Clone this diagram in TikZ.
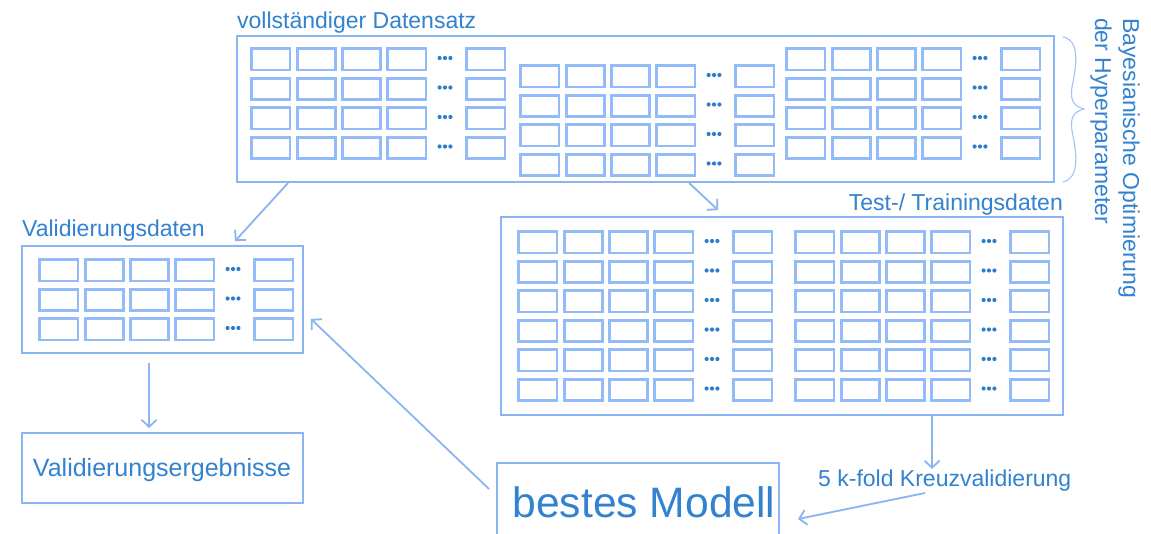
\documentclass[tikz,border=0pt]{standalone}
\usepackage{fontspec}
\setmainfont{Liberation Sans}
\usetikzlibrary{arrows.meta,calc}

\definecolor{lineblue}{RGB}{138,180,244}
\definecolor{cellblue}{RGB}{146,187,248}
\definecolor{txtblue}{RGB}{50,130,208}
\definecolor{dotblue}{RGB}{45,125,205}
\definecolor{braceblue}{RGB}{160,196,246}

\tikzset{
  frame/.style={draw=lineblue, line width=1.9pt, inner sep=0pt, rectangle},
  cell/.style={draw=cellblue, line width=2.8pt, inner sep=0pt, rectangle,
               minimum width=38.2pt, minimum height=21.2pt},
  lbl/.style={text=txtblue, inner sep=0pt, font=\fontsize{23}{28}\selectfont},
  conn/.style={draw=lineblue, line width=1.8pt,
               -{Straight Barb[length=7pt,width=15pt,line width=1.8pt]}},
}

% a block of data cells: name, left x, top y, number of rows
\newcommand\cellgrid[4]{%
  \foreach \r in {1,...,#4}{%
    \foreach \c/\dx in {1/0,2/45.3,3/90.6,4/136,5/215}{%
      \node[cell, anchor=north west] (#1-\r-\c) at (#2+\dx+1.4, #3+29.5*\r-29.5+1.4) {};
    }%
    \foreach \k in {-5.4,0,5.4}{%
      \fill[dotblue] (#2+196+\k, #3+29.5*\r-29.5+12) circle (2.1);
    }%
  }%
}

\begin{document}
\begin{tikzpicture}[x=1pt,y=-1pt]
\useasboundingbox (0,0) rectangle (1151,534);
\clip (0,0) rectangle (1151,534);
\fill[white] (0,0) rectangle (1151,534);

% complete data set
\node[frame, minimum width=817pt, minimum height=146pt] (data) at (645.5,109) {};
\node[lbl, anchor=base west] (tDS) at (237,29) {vollständiger Datensatz};
\cellgrid{ga}{249}{46}{4}
\cellgrid{gb}{518}{63}{4}
\cellgrid{gc}{784}{46}{4}

% brace and hyperparameter optimisation label
\draw[braceblue, line width=1.1pt] (1063,37) .. controls (1079,40) and (1077,62) .. (1073,82)
  .. controls (1069,100) and (1073,106) .. (1084,109)
  .. controls (1073,112) and (1069,118) .. (1073,136)
  .. controls (1077,156) and (1079,178) .. (1063,182);
\node[lbl, rotate=-90, anchor=base west] (bo) at (1123,18) {Bayesianische Optimierung};
\node[lbl, rotate=-90, anchor=base west] (hp) at (1095,18) {der Hyperparameter};

% validation data
\node[frame, minimum width=281pt, minimum height=107pt] (val) at (162.5,299.5) {};
\node[lbl, anchor=base west] (tVD) at (22,237) {Validierungsdaten};
\cellgrid{gv}{37}{257}{3}

% test / training data
\node[frame, minimum width=562pt, minimum height=198pt] (test) at (782,316) {};
\node[lbl, anchor=base east] (tTD) at (1063,211) {Test-/ Trainingsdaten};
\cellgrid{gt}{516}{229}{6}
\cellgrid{gu}{793}{229}{6}

% validation results
\node[frame, minimum width=281pt, minimum height=70pt] (res) at (162.5,468) {};
\node[lbl, anchor=base, font=\fontsize{25}{30}\selectfont] (tRes) at (162,476) {Validierungsergebnisse};

% best model
\node[frame, minimum width=282pt, minimum height=100pt] (model) at (638,513) {};
\node[lbl, anchor=base, font=\fontsize{42.6}{50}\selectfont] (tModel) at (644,517) {bestes Modell};

% cross validation label
\node[lbl, anchor=base west] (kf) at (818,486) {5 k-fold Kreuzvalidierung};

% connectors
\draw[conn] ($(data.south west)+(52,0)$) -- ($(val.north west)+(214,-4)$);
\draw[conn] ($(data.south west)+(453,0)$) -- ($(test.north west)+(218,-6)$);
\draw[conn] ($(val.south west)+(128,9)$) -- ($(res.north west)+(128,-4)$);
\draw[conn] ($(test.south west)+(432,0)$) -- ($(test.south west)+(432,53)$);
\draw[conn] ($(kf.base west)+(107,7)$) -- ($(model.north east)+(18,57)$);
\draw[conn] ($(model.north west)+(-7,27)$) -- ($(val.south east)+(7,-35)$);
\end{tikzpicture}
\end{document}
